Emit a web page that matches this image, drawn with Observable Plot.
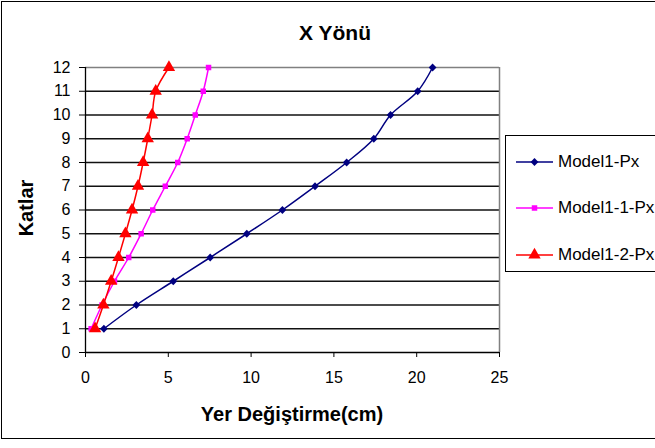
<!DOCTYPE html>
<html>
<head>
<meta charset="utf-8">
<script src="https://cdn.jsdelivr.net/npm/d3@7"></script>
<script src="https://cdn.jsdelivr.net/npm/@observablehq/plot@0.6"></script>
<style>
  html, body { margin: 0; padding: 0; background: #fff; }
  #wrap { position: relative; width: 655px; height: 448px; overflow: hidden; font-family: "Liberation Sans", Arial, sans-serif; }
  #border { position: absolute; left: 1px; top: 1px; width: 720px; height: 438px; border: 1px solid #000; box-sizing: border-box; }
  #chart { position: absolute; left: 0; top: 0; }
  .title { position: absolute; left: 235px; width: 200px; top: 20px; line-height: 25px; text-align: center; font-weight: bold; font-size: 21px; }
  .xlabel { position: absolute; left: 142px; width: 300px; top: 402px; line-height: 24px; text-align: center; font-weight: bold; font-size: 20px; }
  .ylabel { position: absolute; left: 26px; top: 208px; line-height: 24px; transform: translate(-50%, -50%) rotate(-90deg); font-weight: bold; font-size: 20px; white-space: nowrap; }
  #legend { position: absolute; left: 505px; top: 135px; width: 200px; height: 137px; border: 1px solid #000; box-sizing: border-box; background: #fff; }
  .item { position: absolute; left: 10px; height: 20px; display: flex; align-items: center; font-size: 17px; white-space: nowrap; }
  .item svg { margin-right: 5px; }
</style>
</head>
<body>
<div id="wrap">
  <div id="border"></div>
  <div id="chart"></div>
  <div class="title">X Yönü</div>
  <div class="xlabel">Yer Değiştirme(cm)</div>
  <div class="ylabel">Katlar</div>
  <div id="legend"></div>
</div>
<script>
const floors = [1, 2, 3, 4, 5, 6, 7, 8, 9, 10, 11, 12];
const model1Px   = [1.11, 3.07, 5.30, 7.53, 9.74, 11.89, 13.86, 15.77, 17.41, 18.42, 20.06, 20.96];
const model1_1Px = [0.34, 1.00, 1.75, 2.61, 3.36, 4.06, 4.82, 5.57, 6.14, 6.63, 7.11, 7.43];
const model1_2Px = [0.58, 1.08, 1.55, 1.99, 2.41, 2.81, 3.17, 3.48, 3.76, 4.02, 4.24, 5.04];
const seriesNames = ["Model1-Px", "Model1-1-Px", "Model1-2-Px"];
const seriesColors = ["#000080", "#ff00ff", "#ff0000"];
const seriesSymbols = ["diamond2", "square", "triangle"];
const xTicks = [0, 5, 10, 15, 20, 25];
const yTicks = [0, 1, 2, 3, 4, 5, 6, 7, 8, 9, 10, 11, 12];

const allValues = [model1Px, model1_1Px, model1_2Px];
const data = allValues.flatMap((vals, i) => vals.map((v, j) => ({series: seriesNames[i], floor: floors[j], x: v})));

const markSizes = {"Model1-Px": 3.5, "Model1-1-Px": 3.1, "Model1-2-Px": 4.6};
const d3Symbols = {diamond2: d3.symbolDiamond2, square: d3.symbolSquare, triangle: d3.symbolTriangle};

const lineMarks = seriesNames.map((name, i) =>
  Plot.line(data.filter(d => d.series === name), {x: "x", y: "floor", stroke: seriesColors[i], strokeWidth: 1.5, curve: "catmull-rom"})
);
const dotMarks = seriesNames.map((name, i) =>
  Plot.dot(data.filter(d => d.series === name), {x: "x", y: "floor", fill: seriesColors[i], stroke: "none", symbol: seriesSymbols[i], r: markSizes[name]})
);

const chart = Plot.plot({
  width: 655,
  height: 448,
  marginLeft: 85,
  marginRight: 156,
  marginTop: 67,
  marginBottom: 96,
  style: {fontFamily: "'Liberation Sans', Arial, sans-serif", fontSize: "16px", background: "transparent", color: "#000"},
  x: {domain: [0, 25]},
  y: {domain: [0, 12]},
  marks: [
    Plot.ruleY(yTicks.filter(t => t > 0 && t < 12), {stroke: "#111", strokeWidth: 1.3}),
    Plot.ruleY([12], {stroke: "#808080", strokeWidth: 1.5}),
    Plot.ruleX([25], {stroke: "#808080", strokeWidth: 1.5}),
    ...lineMarks,
    ...dotMarks,
    Plot.ruleY([0], {stroke: "#000", strokeWidth: 1.3}),
    Plot.ruleX([0], {stroke: "#000", strokeWidth: 1.3}),
    Plot.axisX({ticks: xTicks, tickSize: 5, tickPadding: 14, label: null, fontSize: 16, stroke: "#000"}),
    Plot.axisY({ticks: yTicks, tickSize: 6, tickPadding: 9, label: null, fontSize: 16, stroke: "#000"})
  ]
});
document.getElementById("chart").appendChild(chart);

// legend
const legend = document.getElementById("legend");
const legendTops = [16, 62, 109];
seriesNames.forEach((name, i) => {
  const item = document.createElement("div");
  item.className = "item";
  item.style.top = legendTops[i] + "px";
  const sym = d3.symbol().type(d3Symbols[seriesSymbols[i]]).size(Math.PI * markSizes[name] ** 2)();
  item.innerHTML = `<svg width="37" height="20"><line x1="0" x2="37" y1="10" y2="10" stroke="${seriesColors[i]}" stroke-width="1.5"/><path d="${sym}" transform="translate(18.5,10)" fill="${seriesColors[i]}"/></svg><span>${name}</span>`;
  legend.appendChild(item);
});
</script>
</body>
</html>
